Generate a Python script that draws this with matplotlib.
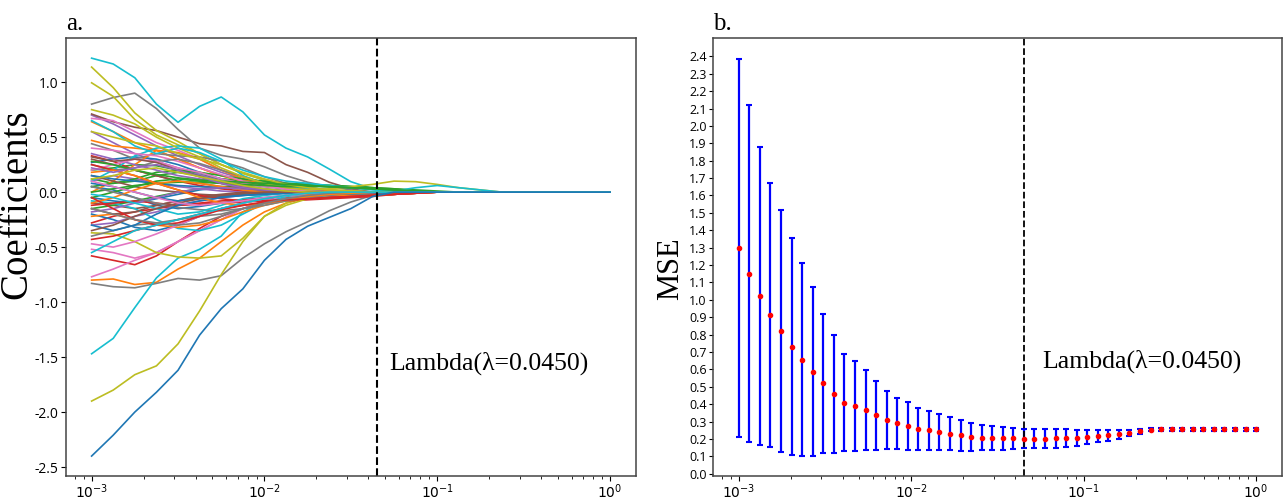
import numpy as np
import matplotlib.pyplot as plt

plt.rcParams['axes.unicode_minus'] = False
plt.rcParams['mathtext.fontset'] = 'custom'
plt.rcParams['mathtext.rm'] = 'Open Sans'
plt.rcParams['mathtext.it'] = 'Open Sans:italic'

# lasso paths: lambda grid and coefficient values (trailing values are exactly 0)
path_lambdas = np.logspace(-3, 0, 25)
coef_paths = [
    [0.05, 0.02, -0.05, -0.12, -0.15, -0.13, -0.10, -0.07, -0.05, -0.03, -0.02, -0.01],
    [0.64, 0.55, 0.45, 0.38, 0.30, 0.22, 0.15, 0.10, 0.06, 0.03, 0.02, 0.01],
    [0.20, 0.22, 0.25, 0.24, 0.20, 0.16, 0.12, 0.10, 0.08, 0.07, 0.06, 0.05, 0.04, 0.03, 0.02, 0.01],
    [-0.58, -0.62, -0.66, -0.58, -0.45, -0.33, -0.22, -0.15, -0.10, -0.07, -0.05, -0.04, -0.03, -0.02, -0.01],
    [0.70, 0.62, 0.52, 0.42, 0.33, 0.25, 0.18, 0.12, 0.08, 0.05, 0.03, 0.01],
    [0.71, 0.64, 0.59, 0.56, 0.50, 0.44, 0.42, 0.37, 0.36, 0.25, 0.18, 0.09, 0.03],
    [0.67, 0.65, 0.55, 0.45, 0.38, 0.30, 0.20, 0.14, 0.08, 0.05, 0.03, 0.01],
    [0.80, 0.86, 0.90, 0.76, 0.57, 0.40, 0.335, 0.30, 0.23, 0.15, 0.09, 0.05, 0.02],
    [1.137, 0.95, 0.72, 0.56, 0.46, 0.35, 0.25, 0.17, 0.11, 0.07, 0.04, 0.02, 0.01],
    [1.218, 1.165, 1.04, 0.80, 0.635, 0.78, 0.865, 0.73, 0.52, 0.40, 0.32, 0.21, 0.095, 0.03],

    [-0.05, -0.08, -0.10, -0.06, -0.02, 0.02, 0.04, 0.03, 0.02, 0.01],
    [-0.80, -0.79, -0.84, -0.82, -0.70, -0.60, -0.45, -0.30, -0.18, -0.10, -0.05, -0.02],
    [0.12, 0.08, 0.10, 0.15, 0.18, 0.15, 0.12, 0.10, 0.09, 0.08, 0.07, 0.06, 0.05, 0.04, 0.02, 0.01],
    [0.33, 0.28, 0.20, 0.15, 0.10, 0.06, 0.03, 0.01, 0.0, -0.01, -0.02, -0.02, -0.02, -0.02, -0.01],
    [0.55, 0.45, 0.35, 0.28, 0.22, 0.16, 0.10, 0.06, 0.03, 0.01],
    [-0.10, -0.12, -0.15, -0.12, -0.08, -0.05, -0.03, -0.02, -0.01],
    [-0.77, -0.70, -0.62, -0.55, -0.45, -0.35, -0.25, -0.15, -0.08, -0.04, -0.02, -0.01],
    [-0.83, -0.86, -0.87, -0.83, -0.785, -0.80, -0.76, -0.60, -0.47, -0.36, -0.27, -0.17, -0.09, -0.03],
    [0.994, 0.87, 0.66, 0.52, 0.43, 0.35, 0.25, 0.17, 0.11, 0.07, 0.04, 0.02, 0.01],
    [-1.47, -1.33, -1.05, -0.78, -0.60, -0.52, -0.40, -0.18, -0.08, -0.03],

    [0.27, 0.30, 0.32, 0.30, 0.25, 0.18, 0.12, 0.08, 0.05, 0.03, 0.02, 0.01],
    [0.47, 0.42, 0.40, 0.38, 0.30, 0.22, 0.15, 0.10, 0.06, 0.03, 0.01],
    [-0.15, -0.12, -0.08, -0.04, 0.0, 0.03, 0.05, 0.06, 0.06, 0.06, 0.06, 0.05, 0.04, 0.03, 0.02, 0.01],
    [-0.28, -0.22, -0.18, -0.15, -0.12, -0.10, -0.08, -0.07, -0.06, -0.05, -0.05, -0.04, -0.04, -0.03, -0.02, -0.01],
    [0.10, 0.15, 0.12, 0.08, 0.05, 0.03, 0.01],
    [0.30, 0.25, 0.20, 0.15, 0.10, 0.08, 0.05, 0.03, 0.01],
    [-0.52, -0.55, -0.60, -0.55, -0.45, -0.35, -0.25, -0.15, -0.08, -0.04, -0.02],
    [0.44, 0.38, 0.30, 0.35, 0.33, 0.32, 0.28, 0.22, 0.14, 0.08, 0.04, 0.02],
    [-0.37, -0.38, -0.45, -0.55, -0.59, -0.60, -0.58, -0.42, -0.22, -0.10, -0.04, -0.01],
    [0.10, 0.20, 0.33, 0.40, 0.42, 0.40, 0.30, 0.15, 0.08, 0.05, 0.03, 0.01],

    [-0.20, -0.25, -0.32, -0.35, -0.30, -0.22, -0.15, -0.10, -0.06, -0.03, -0.01],
    [0.0, 0.10, 0.25, 0.38, 0.36, 0.30, 0.20, 0.12, 0.07, 0.04, 0.02, 0.01],
    [0.05, 0.08, 0.12, 0.18, 0.20, 0.18, 0.15, 0.12, 0.10, 0.08, 0.07, 0.06, 0.05, 0.04, 0.03, 0.01],
    [-0.43, -0.40, -0.35, -0.30, -0.25, -0.20, -0.15, -0.12, -0.10, -0.08, -0.07, -0.06, -0.05, -0.04, -0.02, -0.01],
    [-0.30, -0.28, -0.22, -0.18, -0.12, -0.08, -0.05, -0.03, -0.01],
    [0.15, 0.10, 0.05, 0.02, 0.0, -0.02, -0.03, -0.02, -0.01],
    [0.40, 0.38, 0.35, 0.33, 0.28, 0.22, 0.16, 0.10, 0.06, 0.03, 0.01],
    [0.25, 0.20, 0.22, 0.28, 0.30, 0.26, 0.20, 0.14, 0.08, 0.04, 0.02],
    [-1.90, -1.80, -1.66, -1.58, -1.38, -1.08, -0.75, -0.45, -0.22, -0.12, -0.06, -0.03, -0.01],
    [-0.08, -0.10, -0.15, -0.25, -0.33, -0.35, -0.30, -0.20, -0.10, -0.04, -0.01],

    [0.15, 0.12, 0.10, 0.08, 0.06, 0.05, 0.04, 0.03, 0.02, 0.01, 0.0, -0.01, -0.02, -0.02, -0.02, -0.01],
    [-0.22, -0.20, -0.25, -0.30, -0.32, -0.30, -0.25, -0.18, -0.12, -0.08, -0.06, -0.05, -0.04, -0.03, -0.02, -0.01],
    [0.0, 0.03, 0.06, 0.08, 0.09, 0.09, 0.08, 0.08, 0.07, 0.07, 0.07, 0.06, 0.05, 0.04, 0.03, 0.02, 0.01],
    [-0.12, -0.10, -0.08, -0.10, -0.12, -0.11, -0.10, -0.09, -0.08, -0.07, -0.06, -0.05, -0.04, -0.03, -0.02, -0.01],
    [0.35, 0.30, 0.25, 0.20, 0.15, 0.12, 0.08, 0.05, 0.03, 0.01],
    [-0.15, -0.20, -0.18, -0.12, -0.08, -0.04, -0.02],
    [0.20, 0.25, 0.30, 0.28, 0.22, 0.18, 0.12, 0.08, 0.05, 0.03, 0.01],
    [-0.40, -0.35, -0.30, -0.28, -0.25, -0.22, -0.20, -0.15, -0.10, -0.06, -0.03, -0.01],
    [0.75, 0.70, 0.62, 0.50, 0.40, 0.32, 0.22, 0.14, 0.08, 0.04, 0.02, 0.03, 0.05, 0.07, 0.10, 0.095, 0.07, 0.04, 0.02],
    [0.65, 0.55, 0.42, 0.35, 0.40, 0.36, 0.28, 0.20, 0.14, 0.10, 0.08, 0.06, 0.04, 0.02, 0.01, 0.04, 0.06, 0.04, 0.02],

    [0.08, 0.05, 0.0, -0.05, -0.08, -0.06, -0.04, -0.03, -0.02, -0.01],
    [-0.10, -0.05, 0.02, 0.08, 0.10, 0.08, 0.05, 0.02, 0.0, -0.01, -0.02, -0.03, -0.03, -0.03, -0.02, -0.01],
    [-0.05, 0.0, 0.05, 0.10, 0.12, 0.10, 0.08, 0.07, 0.06, 0.05, 0.05, 0.05, 0.04, 0.03, 0.02, 0.01],
    [0.25, 0.20, 0.15, 0.08, 0.02, -0.03, -0.06, -0.08, -0.08, -0.07, -0.06, -0.05, -0.04, -0.03, -0.02, -0.01],
    [-0.18, -0.15, -0.10, -0.05, 0.0, 0.03, 0.04, 0.03, 0.02, 0.01],
    [0.32, 0.28, 0.30, 0.27, 0.20, 0.14, 0.08, 0.04, 0.02],
    [-0.47, -0.50, -0.45, -0.38, -0.30, -0.22, -0.15, -0.10, -0.06, -0.03, -0.01],
    [0.05, 0.0, -0.05, -0.10, -0.14, -0.16, -0.17, -0.15, -0.12, -0.08, -0.05, -0.03, -0.01],
    [0.55, 0.50, 0.45, 0.42, 0.35, 0.30, 0.25, 0.18, 0.12, 0.07, 0.04, 0.02, 0.01],
    [-0.02, -0.05, -0.10, -0.15, -0.20, -0.18, -0.12, -0.06, -0.03, -0.01],

    [-0.30, -0.35, -0.30, -0.20, -0.12, -0.08, -0.05, -0.03, -0.02, -0.01],
    [0.18, 0.20, 0.15, 0.08, 0.02, -0.05, -0.10, -0.12, -0.10, -0.07, -0.04, -0.02, -0.01],
    [0.28, 0.25, 0.20, 0.16, 0.13, 0.11, 0.10, 0.09, 0.08, 0.07, 0.06, 0.05, 0.04, 0.03, 0.02, 0.01],
    [-0.05, -0.15, -0.25, -0.30, -0.28, -0.22, -0.16, -0.12, -0.09, -0.07, -0.06, -0.05, -0.04, -0.03, -0.02, -0.01],
    [0.22, 0.18, 0.22, 0.25, 0.20, 0.14, 0.08, 0.04, 0.02],
    [-0.35, -0.30, -0.22, -0.15, -0.10, -0.06, -0.03, -0.01],
    [0.10, 0.05, 0.0, -0.05, -0.10, -0.12, -0.10, -0.08, -0.05, -0.03, -0.01],
    [-0.15, -0.20, -0.25, -0.28, -0.30, -0.28, -0.22, -0.15, -0.10, -0.06, -0.03, -0.01],
    [0.12, 0.15, 0.20, 0.22, 0.18, 0.14, 0.10, 0.06, 0.03, 0.01],
    [-0.55, -0.45, -0.35, -0.30, -0.25, -0.20, -0.15, -0.10, -0.06, -0.03, -0.01],

    [-2.40, -2.21, -2.00, -1.82, -1.62, -1.30, -1.06, -0.88, -0.62, -0.43, -0.31, -0.23, -0.15, -0.04],
]

# cross validation
cv_lambdas = np.logspace(-3, 0, 50)
mse_mean = [1.297, 1.150, 1.022, 0.913, 0.820, 0.730, 0.656, 0.587, 0.520, 0.458,
            0.408, 0.390, 0.365, 0.337, 0.310, 0.290, 0.272, 0.258, 0.249, 0.240,
            0.230, 0.220, 0.212, 0.207, 0.205, 0.204, 0.203, 0.202, 0.202, 0.202,
            0.203, 0.205, 0.208, 0.213, 0.217, 0.221, 0.227, 0.235, 0.243, 0.254,
            0.255, 0.255, 0.255, 0.255, 0.255, 0.255, 0.255, 0.255, 0.255, 0.255]
mse_std = [1.088, 0.970, 0.858, 0.760, 0.698, 0.625, 0.554, 0.485, 0.400, 0.337,
           0.278, 0.258, 0.230, 0.198, 0.168, 0.147, 0.138, 0.120, 0.112, 0.102,
           0.095, 0.088, 0.081, 0.071, 0.069, 0.066, 0.062, 0.057, 0.056, 0.055,
           0.053, 0.050, 0.046, 0.041, 0.036, 0.031, 0.025, 0.019, 0.013, 0.010,
           0.009, 0.009, 0.009, 0.009, 0.009, 0.009, 0.009, 0.009, 0.009, 0.009]
best_lambda = 0.0450

serif = 'Liberation Serif'
tickfont = 'Open Sans'

fig = plt.figure(figsize=(12.83, 5.01), dpi=100)
ax1 = fig.add_axes([0.0512, 0.05, 0.4445, 0.8736])
ax2 = fig.add_axes([0.5557, 0.05, 0.4435, 0.8736])

for p in coef_paths:
    vals = np.zeros(len(path_lambdas))
    vals[:len(p)] = p
    ax1.plot(path_lambdas, vals, lw=1.2)
ax1.set_xscale('log')
ax1.axvline(best_lambda, color='k', ls='--', lw=1.5)
ax1.set_ylabel('Coefficients', family=serif, fontsize=28)
ax1.yaxis.set_label_coords(-0.054, 0.62)
ax1.set_title('a.', loc='left', family=serif, fontsize=18, pad=6)
ax1.text(0.0525, -1.555, 'Lambda(\u03bb=0.0450)', family=serif, fontsize=18.5, va='center')
ax1.set_yticks(np.arange(-2.5, 1.01, 0.5))

ax2.errorbar(cv_lambdas, mse_mean, yerr=mse_std, fmt='o', color='red', ms=3,
             ecolor='blue', elinewidth=1.6, capsize=2, capthick=1.5)
ax2.set_xscale('log')
ax2.axvline(best_lambda, color='k', ls='--', lw=1.3)
ax2.set_ylim(-0.013, 2.504)
ax2.set_yticks(np.arange(0, 2.41, 0.1))
ax2.set_ylabel('MSE', family=serif, fontsize=22)
ax2.yaxis.set_label_coords(-0.049, 0.473)
ax2.set_title('b.', loc='left', family=serif, fontsize=18, pad=6)
ax2.text(0.0577, 0.645, 'Lambda(\u03bb=0.0450)', family=serif, fontsize=18.5, va='center')

ax1.yaxis.set_major_formatter(plt.FormatStrFormatter('%.1f'))
ax2.yaxis.set_major_formatter(plt.FormatStrFormatter('%.1f'))

for ax in (ax1, ax2):
    ax.tick_params(axis='x', which='major', labelsize=10, length=3.5, pad=1.5)
    ax.tick_params(axis='x', which='minor', length=2)
    for s in ax.spines.values():
        s.set_color('#444444')
        s.set_linewidth(1.1)
ax1.tick_params(axis='y', labelsize=10, length=3.5, pad=2)
ax2.tick_params(axis='y', labelsize=9, length=3, pad=1.5)
for lab in ax1.get_yticklabels() + ax2.get_yticklabels():
    lab.set_family(tickfont)

fig.savefig('out.png', dpi=100)
